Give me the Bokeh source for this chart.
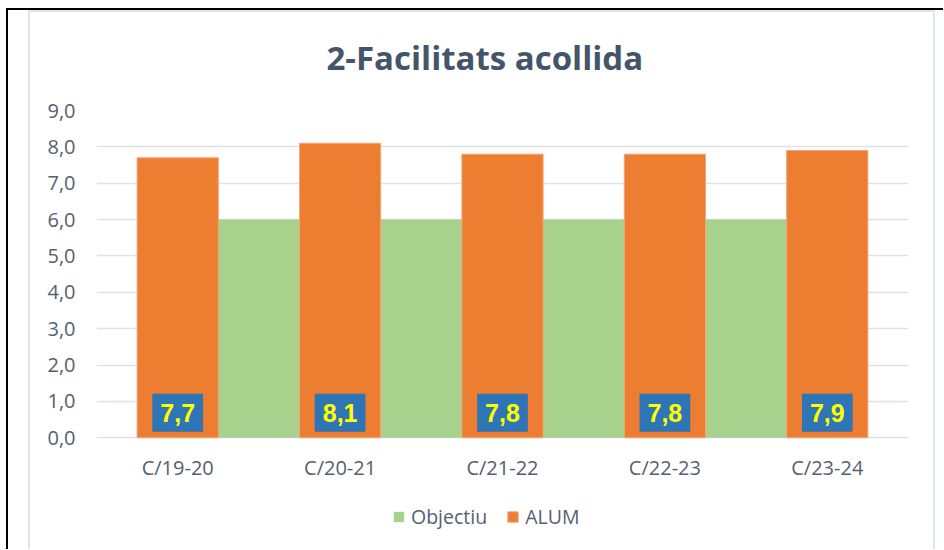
from bokeh.plotting import figure
from bokeh.models import Legend, LegendItem, FixedTicker, Title
from bokeh.core.properties import value
from bokeh.embed import file_html
from bokeh.resources import INLINE

title_text = "2-Facilitats acollida"
categories = ["C/19-20", "C/20-21", "C/21-22", "C/22-23", "C/23-24"]
objectiu = [6.0, 6.0, 6.0, 6.0, 6.0]
alum = [7.7, 8.1, 7.8, 7.8, 7.9]
y_ticks = [0, 1, 2, 3, 4, 5, 6, 7, 8, 9]
y_tick_labels = ["0,0", "1,0", "2,0", "3,0", "4,0", "5,0", "6,0", "7,0", "8,0", "9,0"]
series_names = ["Objectiu", "ALUM"]

alum_labels = [f"{v:.1f}".replace(".", ",") for v in alum]

TEXT = "#556070"
G = "linear-gradient(#E0E4EB, #E0E4EB)"
K = "linear-gradient(#000000, #000000)"

page_styles = {
    "position": "relative", "left": "6px", "top": "1px",
    "background-image": ", ".join([K, K, G, G, G]),
    "background-size": "100% 2px, 2px 100%, 2px 100%, 2px 100%, 907px 2px",
    "background-position": "0px 7px, 0px 7px, 22px 10px, 927px 10px, 22px 9px",
    "background-repeat": "no-repeat",
}

# frame spans the plot area plus room below for axis labels and legend
y_max = 9
y_min = -y_max * 110 / 328

p = figure(x_range=categories, y_range=(y_min, y_max), width=937, height=548,
           output_backend="svg", toolbar_location=None,
           min_border_left=90, min_border_right=35,
           min_border_top=108, min_border_bottom=2,
           styles=page_styles)
p.outline_line_color = None
p.background_fill_color = "white"
p.border_fill_alpha = 0

p.title = Title(text=title_text, align="left", offset=230, standoff=62,
                text_font="Open Sans", text_font_style="bold",
                text_font_size="33px", text_color="#44546A")

# grid
p.xgrid.grid_line_color = None
p.ygrid.grid_line_color = "#DEE2E8"
p.ygrid.grid_line_width = 1.5
p.yaxis.ticker = FixedTicker(ticks=y_ticks)
p.yaxis.major_label_overrides = {t: l for t, l in zip(y_ticks, y_tick_labels)}

for ax in (p.xaxis, p.yaxis):
    ax.axis_line_color = None
    ax.major_tick_line_color = None
    ax.minor_tick_line_color = None
    ax.major_label_text_font = "Open Sans"
    ax.major_label_text_font_size = "20px"
    ax.major_label_text_color = TEXT
p.yaxis.major_label_standoff = 15
p.xaxis.major_label_standoff = 10
p.xaxis.fixed_location = 0

area_r = p.varea(x=categories, y1=0, y2=objectiu, fill_color="#A9D18E")
bar_r = p.vbar(x=categories, top=alum, width=0.5, fill_color="#ED7D31",
               line_color="#F2A77A", line_width=1)

p.text(x=categories, y=0, text=alum_labels, y_offset=-25,
       text_align="center", text_baseline="middle",
       text_font=value("Liberation Sans"), text_font_style="bold",
       text_font_size="25px", text_color="#FFFF00",
       background_fill_color="#2E75B6", padding=(8, 10))

legend = Legend(items=[LegendItem(label=series_names[0], renderers=[area_r]),
                       LegendItem(label=series_names[1], renderers=[bar_r])],
                orientation="horizontal", location=(296, 17),
                padding=0, margin=0, spacing=19,
                glyph_width=13, glyph_height=13, label_standoff=6,
                label_text_font="Open Sans", label_text_font_size="19.5px",
                label_text_color=TEXT, border_line_color=None,
                background_fill_alpha=0)
p.add_layout(legend)

open("out.html", "w").write(file_html(p, INLINE))
